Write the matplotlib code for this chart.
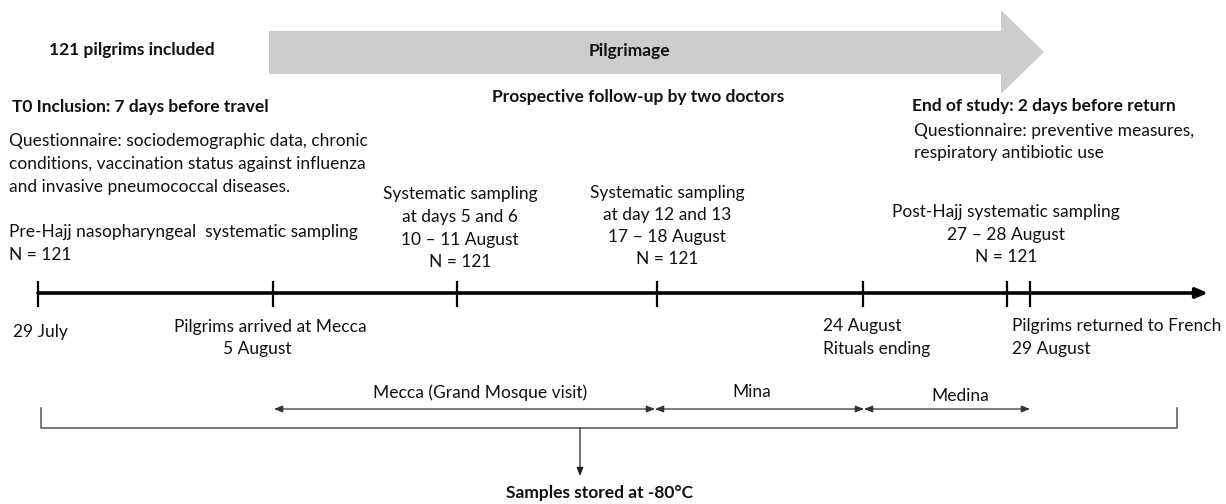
import matplotlib
matplotlib.use("Agg")
import matplotlib.pyplot as plt
from matplotlib.patches import Polygon

# ---------------- data ----------------
# timeline event positions (horizontal position along the drawn timeline)
tick_pos = [38, 273, 457, 657, 863, 1007, 1030]
timeline_end = 1208

# stay periods (start, end) along the same timeline
periods = ["Mecca (Grand Mosque visit)", "Mina", "Medina"]
period_start = [274, 655, 864]
period_end = [655, 864, 1030]
period_label_x = [480, 752, 960]
period_label_y = [393, 392, 396]

# sampling blocks above timeline
above_blocks = [
    (["Pre-Hajj nasopharyngeal  systematic sampling", "N = 121"], 9, "left", [232, 255]),
    (["Systematic sampling", "at days 5 and 6", "10 \u2013 11 August", "N = 121"], 460, "center", [194, 217, 240, 262]),
    (["Systematic sampling", "at day 12 and 13", "17 \u2013 18 August", "N = 121"], 667, "center", [193, 215, 237, 259]),
    (["Post-Hajj systematic sampling", "27 \u2013 28 August", "N = 121"], 1006, "center", [212, 235, 257]),
]

# labels below timeline
below_blocks = [
    (["29 July"], 13, "left", [332]),
    (["Pilgrims arrived at Mecca"], 270, "center", [327]),
    (["5 August"], 257, "center", [349]),
    (["24 August", "Rituals ending"], 823, "left", [326, 349]),
    (["Pilgrims returned to French", "29 August"], 1012, "left", [326, 349]),
]

FONT = ["Lato", "DejaVu Sans"]
FS = 12.5

fig = plt.figure(figsize=(12.26, 5.04), dpi=100)
ax = fig.add_axes([0, 0, 1, 1])
ax.set_xlim(0, 1226)
ax.set_ylim(504, 0)
ax.axis("off")

def txt(x, y, s, ha="left", bold=False, size=FS):
    ax.text(x, y, s, ha=ha, va="center", fontsize=size, family=FONT,
            fontweight="bold" if bold else "normal", color="#111111")

# big grey arrow
arrow_pts = [(269, 31), (1001, 31), (1001, 10), (1044, 52), (1001, 94), (1001, 74), (269, 74)]
ax.add_patch(Polygon(arrow_pts, closed=True, facecolor="#cdcdcd", edgecolor="none"))

txt(132, 50, "121 pilgrims included", ha="center", bold=True)
txt(629, 51, "Pilgrimage", ha="center", bold=True)
txt(638, 97, "Prospective follow-up by two doctors", ha="center", bold=True)

txt(12, 107, "T0 Inclusion: 7 days before travel", bold=True)
for s, y in zip(["Questionnaire: sociodemographic data, chronic",
                 "conditions, vaccination status against influenza",
                 "and invasive pneumococcal diseases."], [141, 164, 187]):
    txt(9, y, s)

txt(912, 106, "End of study: 2 days before return", bold=True)
for s, y in zip(["Questionnaire: preventive measures,",
                 "respiratory antibiotic use"], [131, 153]):
    txt(914, y, s)

for lines, x, ha, ys in above_blocks + below_blocks:
    for s, y in zip(lines, ys):
        txt(x, y, s, ha=ha)

# timeline
ty = 293
ax.annotate("", xy=(timeline_end, ty), xytext=(tick_pos[0], ty),
            arrowprops=dict(arrowstyle="-|>,head_length=0.7,head_width=0.3",
                            lw=2.6, color="black", shrinkA=0, shrinkB=0))
for x in tick_pos:
    ax.plot([x, x], [281, 307], color="black", lw=1.6, solid_capstyle="butt")

# stay periods
py = 409
for s, e, lab, lx, ly in zip(period_start, period_end, periods, period_label_x, period_label_y):
    ax.annotate("", xy=(e, py), xytext=(s, py),
                arrowprops=dict(arrowstyle="<|-|>,head_length=0.5,head_width=0.2",
                                lw=0.9, color="#333333", shrinkA=0, shrinkB=0))
    txt(lx, ly, lab, ha="center")

# bracket
ax.plot([41, 41, 1177, 1177], [408, 428, 428, 408], color="#555555", lw=1.1)
ax.annotate("", xy=(580, 476), xytext=(580, 428),
            arrowprops=dict(arrowstyle="-|>,head_length=0.5,head_width=0.2",
                            lw=0.9, color="#222222", shrinkA=0, shrinkB=0))
txt(600, 493, "Samples stored at -80\u00b0C", ha="center", bold=True)

fig.savefig("out.png", dpi=100, facecolor="white")
